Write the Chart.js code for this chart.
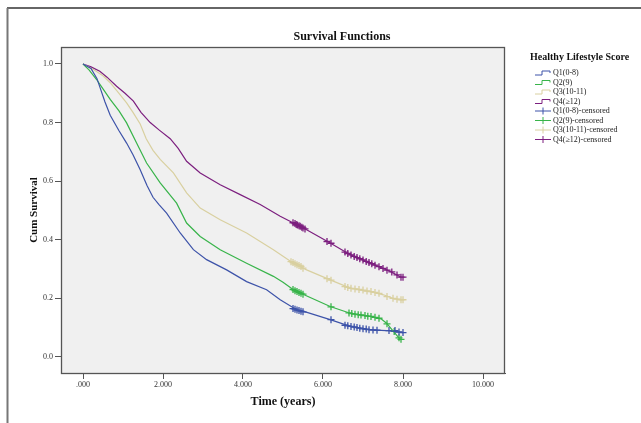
<!DOCTYPE html>
<html lang="en">
<head>
    <meta charset="UTF-8">
    <title>Survival Functions</title>
    <script src="https://cdn.jsdelivr.net/npm/chart.js"></script>
    <style>
        body {
            margin: 0;
            background: white;
        }
        .wrap {
            position: relative;
            width: 641px;
            height: 423px;
        }
    </style>
</head>
<body>
<div class="wrap"><canvas id="kmChart"></canvas></div>
<script>
    // Kaplan-Meier curves: [time in years, cum survival]
    let q1Curve = [[0,1.0],[0.2,0.985],[0.35,0.95],[0.45,0.91],[0.55,0.87],[0.68,0.825],[0.9,0.772],[1.09,0.73],[1.25,0.69],[1.43,0.639],[1.6,0.585],[1.75,0.545],[1.9,0.52],[2.09,0.491],[2.43,0.423],[2.76,0.366],[3.09,0.332],[3.59,0.297],[4.09,0.257],[4.59,0.229],[4.93,0.195],[5.34,0.161],[5.6,0.152],[6.18,0.127],[6.68,0.104],[7.18,0.092],[7.59,0.09],[8.0,0.083]];
    let q2Curve = [[0,1.0],[0.15,0.98],[0.34,0.947],[0.5,0.915],[0.68,0.879],[0.9,0.84],[1.09,0.799],[1.34,0.73],[1.59,0.662],[1.93,0.594],[2.34,0.525],[2.59,0.457],[2.93,0.411],[3.43,0.366],[4.09,0.32],[4.76,0.275],[5.0,0.255],[5.26,0.229],[5.43,0.218],[6.18,0.172],[6.68,0.149],[7.18,0.138],[7.45,0.13],[7.59,0.115],[7.76,0.087],[7.93,0.06]];
    let q3Curve = [[0,1.0],[0.26,0.981],[0.5,0.96],[0.68,0.936],[0.9,0.9],[1.09,0.867],[1.25,0.835],[1.43,0.795],[1.58,0.745],[1.75,0.705],[1.93,0.674],[2.26,0.628],[2.59,0.56],[2.93,0.508],[3.43,0.468],[4.09,0.423],[4.76,0.366],[5.26,0.32],[5.59,0.297],[6.18,0.263],[6.68,0.235],[7.18,0.223],[7.51,0.212],[7.75,0.2],[7.98,0.195]];
    let q4Curve = [[0,1.0],[0.2,0.99],[0.42,0.975],[0.6,0.955],[0.84,0.924],[1.05,0.9],[1.26,0.873],[1.45,0.835],[1.68,0.8],[1.9,0.775],[2.18,0.745],[2.38,0.712],[2.59,0.668],[2.93,0.628],[3.43,0.588],[3.93,0.554],[4.43,0.52],[4.93,0.48],[5.26,0.457],[5.59,0.434],[6.18,0.389],[6.68,0.349],[7.18,0.32],[7.68,0.292],[7.95,0.272]];

    // censored cases (+ marks)
    let q1Censored = [[5.25,0.165],[5.3,0.163],[5.35,0.16],[5.4,0.158],[5.45,0.156],[5.5,0.154],[6.2,0.127],[6.55,0.108],[6.62,0.106],[6.7,0.104],[6.78,0.102],[6.85,0.1],[6.92,0.098],[7.0,0.096],[7.08,0.095],[7.15,0.093],[7.25,0.092],[7.35,0.091],[7.65,0.09],[7.8,0.09],[7.9,0.085],[8.0,0.083]];
    let q2Censored = [[5.25,0.23],[5.3,0.226],[5.35,0.223],[5.4,0.22],[5.45,0.217],[5.5,0.214],[6.2,0.171],[6.65,0.15],[6.72,0.148],[6.8,0.146],[6.88,0.144],[6.95,0.143],[7.05,0.141],[7.12,0.139],[7.2,0.138],[7.3,0.135],[7.4,0.132],[7.6,0.113],[7.78,0.087],[7.9,0.065],[7.95,0.06]];
    let q3Censored = [[5.2,0.325],[5.25,0.322],[5.3,0.318],[5.35,0.315],[5.4,0.312],[5.45,0.309],[5.5,0.303],[6.1,0.267],[6.2,0.262],[6.55,0.24],[6.62,0.237],[6.7,0.234],[6.8,0.232],[6.9,0.23],[7.0,0.228],[7.1,0.225],[7.2,0.223],[7.3,0.22],[7.4,0.217],[7.6,0.206],[7.75,0.2],[7.85,0.197],[7.95,0.195],[8.0,0.195]];
    let q4Censored = [[5.25,0.458],[5.3,0.455],[5.33,0.452],[5.36,0.45],[5.4,0.448],[5.43,0.446],[5.47,0.443],[5.5,0.44],[5.55,0.437],[6.1,0.394],[6.2,0.388],[6.55,0.358],[6.62,0.353],[6.7,0.348],[6.78,0.343],[6.85,0.339],[6.92,0.335],[7.0,0.331],[7.08,0.326],[7.15,0.322],[7.22,0.318],[7.3,0.313],[7.4,0.308],[7.5,0.302],[7.6,0.296],[7.72,0.29],[7.85,0.28],[7.95,0.272],[8.0,0.272]];

    let groupNames = ['Q1(0-8)', 'Q2(9)', 'Q3(10-11)', 'Q4(\u226512)'];
    let xTicks = [0, 2, 4, 6, 8, 10];
    let xTickLabels = ['.000', '2.000', '4.000', '6.000', '8.000', '10.000'];
    let yTicks = [0, 0.2, 0.4, 0.6, 0.8, 1.0];
    let yTickLabels = ['0.0', '0.2', '0.4', '0.6', '0.8', '1.0'];

    let colors = ['#3d53a9', '#38b44a', '#d9d0a0', '#7c1f7f'];
    let serif = '"Liberation Serif", "Times New Roman", serif';

    function toPoints(arr) {
        return arr.map(p => ({ x: p[0], y: p[1] }));
    }

    let curves = [q1Curve, q2Curve, q3Curve, q4Curve];
    let censored = [q1Censored, q2Censored, q3Censored, q4Censored];

    let datasets = [];
    curves.forEach((c, i) => {
        datasets.push({
            label: groupNames[i],
            data: toPoints(c),
            borderColor: colors[i],
            borderWidth: 1.2,
            pointRadius: 0,
            fill: false,
            tension: 0
        });
    });
    censored.forEach((c, i) => {
        datasets.push({
            label: groupNames[i] + '-censored',
            data: toPoints(c),
            borderColor: colors[i],
            backgroundColor: colors[i],
            showLine: false,
            pointStyle: 'cross',
            pointRadius: 3.5,
            borderWidth: 1.3
        });
    });

    // plot background, frame, title and the SPSS style legend
    let decor = {
        id: 'decor',
        beforeDraw(chart) {
            let ctx = chart.ctx;
            let a = chart.chartArea;
            ctx.save();
            ctx.fillStyle = '#f0f0f0';
            ctx.fillRect(a.left, a.top, a.right - a.left, a.bottom - a.top);
            // outer figure frame
            ctx.strokeStyle = '#333';
            ctx.lineWidth = 1.5;
            ctx.beginPath();
            ctx.moveTo(7, 8);
            ctx.lineTo(641, 8);
            ctx.stroke();
            ctx.strokeStyle = '#777';
            ctx.lineWidth = 2;
            ctx.beginPath();
            ctx.moveTo(7.5, 8);
            ctx.lineTo(7.5, 423);
            ctx.stroke();
            ctx.restore();
        },
        afterDraw(chart) {
            let ctx = chart.ctx;
            let a = chart.chartArea;
            ctx.save();
            ctx.strokeStyle = '#555';
            ctx.lineWidth = 1.3;
            ctx.strokeRect(a.left + 0.5, a.top + 0.5, a.right - a.left - 1, a.bottom - a.top);

            ctx.fillStyle = '#111';
            ctx.textAlign = 'center';
            ctx.textBaseline = 'middle';
            ctx.font = 'bold 12px ' + serif;
            ctx.fillText('Survival Functions', 342, 37);

            ctx.textAlign = 'left';
            ctx.font = 'bold 10px ' + serif;
            ctx.fillText('Healthy Lifestyle Score', 530, 57);

            ctx.font = '8px ' + serif;
            chart.data.datasets.forEach((ds, i) => {
                let y = 73 + i * 9.5;
                ctx.strokeStyle = ds.borderColor;
                ctx.lineWidth = 1;
                ctx.beginPath();
                if (i < 4) {
                    ctx.moveTo(535, y + 2);
                    ctx.lineTo(542, y + 2);
                    ctx.lineTo(542, y - 2);
                    ctx.lineTo(550, y - 2);
                    ctx.lineTo(550, y);
                } else {
                    ctx.moveTo(535, y);
                    ctx.lineTo(551, y);
                    ctx.moveTo(543, y - 3.5);
                    ctx.lineTo(543, y + 3.5);
                }
                ctx.stroke();
                ctx.fillStyle = '#222';
                ctx.fillText(ds.label, 553, y);
            });
            ctx.restore();
        }
    };

    new Chart(document.getElementById('kmChart'), {
        type: 'line',
        data: { datasets: datasets },
        options: {
            responsive: true,
            maintainAspectRatio: false,
            animation: false,
            layout: { padding: { left: 0, right: 136, top: 47, bottom: 0 } },
            plugins: {
                legend: { display: false },
                title: { display: false },
                tooltip: { enabled: false }
            },
            scales: {
                x: {
                    type: 'linear',
                    min: -0.55,
                    max: 10.55,
                    afterFit: s => { s.height = 50; },
                    afterBuildTicks: s => { s.ticks = xTicks.map(v => ({ value: v })); },
                    ticks: {
                        padding: 1,
                        color: '#333',
                        font: { family: serif, size: 8 },
                        callback: (v) => xTickLabels[xTicks.indexOf(v)]
                    },
                    grid: { drawOnChartArea: false, tickLength: 6, color: '#555' },
                    border: { color: '#555' },
                    title: {
                        display: true,
                        text: 'Time (years)',
                        color: '#111',
                        font: { family: serif, size: 12, weight: 'bold' },
                        padding: { top: 0, bottom: 14 }
                    }
                },
                y: {
                    min: -0.055,
                    max: 1.058,
                    afterFit: s => { s.width = 61; },
                    afterBuildTicks: s => { s.ticks = yTicks.map(v => ({ value: v })); },
                    ticks: {
                        padding: 2,
                        color: '#333',
                        font: { family: serif, size: 8 },
                        callback: (v) => yTickLabels[yTicks.indexOf(v)]
                    },
                    grid: { drawOnChartArea: false, tickLength: 6, color: '#555' },
                    border: { color: '#555' },
                    title: {
                        display: true,
                        text: 'Cum Survival',
                        color: '#111',
                        font: { family: serif, size: 11, weight: 'bold' },
                        padding: { top: 28, bottom: 0 }
                    }
                }
            }
        },
        plugins: [decor]
    });
</script>
</body>
</html>
